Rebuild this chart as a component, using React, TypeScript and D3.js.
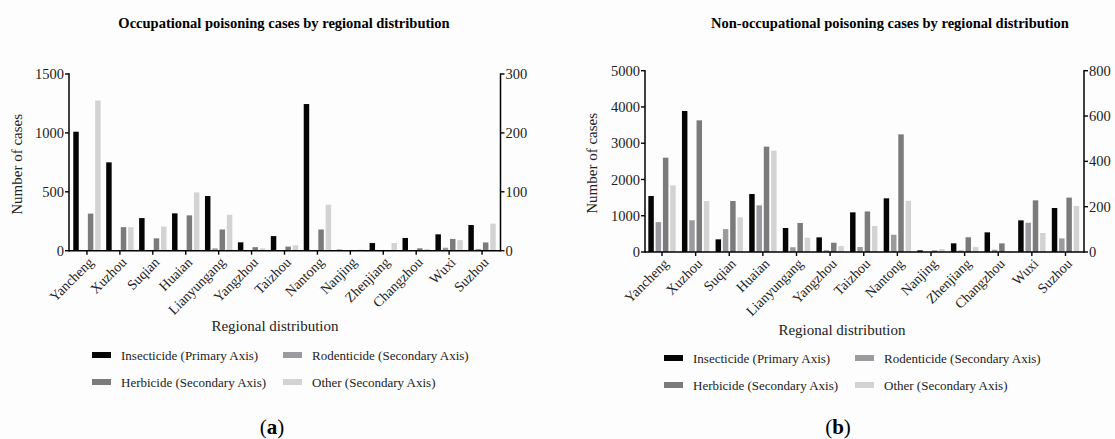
import React from "react";
import * as d3 from "d3";

const regions = ["Yancheng","Xuzhou","Suqian","Huaian","Lianyungang","Yangzhou","Taizhou","Nantong","Nanjing","Zhenjiang","Changzhou","Wuxi","Suzhou"];
const seriesNames = ["Insecticide", "Rodenticide", "Herbicide", "Other"];
const legendLabels = ["Insecticide (Primary Axis)", "Rodenticide (Secondary Axis)", "Herbicide (Secondary Axis)", "Other (Secondary Axis)"];

const occInsecticide = [1010, 750, 277, 317, 464, 71, 124, 1245, 8, 65, 108, 139, 218];
const occRodenticide = [0, 0, 0, 0, 4, 0, 0, 0, 0, 0, 0, 5, 3];
const occHerbicide = [63, 40, 21, 60, 36, 6, 7, 36, 0, 0, 4, 20, 14];
const occOther = [255, 40, 41, 99, 61, 4, 9, 78, 2, 13, 3, 18, 46];

const nonInsecticide = [1544, 3888, 349, 1599, 662, 404, 1094, 1480, 46, 239, 542, 873, 1213];
const nonRodenticide = [132, 140, 101, 206, 21, 8, 22, 76, 0, 7, 10, 129, 60];
const nonHerbicide = [416, 581, 225, 465, 128, 41, 179, 519, 7, 65, 38, 228, 240];
const nonOther = [294, 225, 153, 447, 63, 26, 115, 226, 13, 22, 3, 84, 203];

const occPrimaryTicks = [0, 500, 1000, 1500];
const occSecondaryTicks = [0, 100, 200, 300];
const nonPrimaryTicks = [0, 1000, 2000, 3000, 4000, 5000];
const nonSecondaryTicks = [0, 200, 400, 600, 800];

const colors = ["#050505", "#9b9b9f", "#7b7b7b", "#d3d3d3"];
const FONT = "Liberation Serif, Times New Roman, serif";

type PanelProps = {
  title: string;
  titleX: number;
  letter: string;
  letterX: number;
  axisLeft: number;
  axisRight: number;
  bandLeft: number;
  bandRight: number;
  y0: number;
  yTop: number;
  primaryMax: number;
  secondaryMax: number;
  primaryTicks: number[];
  secondaryTicks: number[];
  series: number[][];
  yLabelX: number;
  xLabelX: number;
  xLabelY: number;
  legendX: number;
  legendX2: number;
  legendY: number;
};

function Panel(p: PanelProps) {
  const x0 = d3.scaleBand<string>().domain(regions).range([p.bandLeft, p.bandRight]).padding(0);
  const x1 = d3.scaleBand<string>().domain(seriesNames).range([-14.6, 14.6]).paddingInner(0.25).paddingOuter(0.125);
  const yP = d3.scaleLinear().domain([0, p.primaryMax]).range([p.y0, p.yTop]);
  const yS = d3.scaleLinear().domain([0, p.secondaryMax]).range([p.y0, p.yTop]);
  const centre = (r: string) => (x0(r) as number) + x0.bandwidth() / 2;
  return (
    <g>
      <text x={p.titleX} y={28} textAnchor="middle" fontFamily={FONT} fontWeight="bold" fontSize={14.5}>{p.title}</text>
      {p.series.map((vals, si) =>
        vals.map((v, i) => {
          const sc = si === 0 ? yP : yS;
          const xx = centre(regions[i]) + (x1(seriesNames[si]) as number);
          return <rect key={si + "-" + i} x={xx} y={sc(v)} width={x1.bandwidth()} height={p.y0 - sc(v)} fill={colors[si]} />;
        })
      )}
      <line x1={p.axisLeft} x2={p.axisLeft} y1={p.yTop - 0.7} y2={p.y0 + 0.7} stroke="#000" strokeWidth={1.5} />
      {p.primaryTicks.map((t) => (
        <g key={"pt" + t}>
          <line x1={p.axisLeft - 4} x2={p.axisLeft} y1={yP(t)} y2={yP(t)} stroke="#000" strokeWidth={1.4} />
          <text x={p.axisLeft - 5} y={yP(t)} dy="0.35em" textAnchor="end" fontFamily={FONT} fontSize={14.5} fill="#222">{t}</text>
        </g>
      ))}
      <line x1={p.axisRight} x2={p.axisRight} y1={p.yTop - 0.7} y2={p.y0 + 0.7} stroke="#000" strokeWidth={1.5} />
      {p.secondaryTicks.map((t) => (
        <g key={"st" + t}>
          <line x1={p.axisRight} x2={p.axisRight + 4} y1={yS(t)} y2={yS(t)} stroke="#000" strokeWidth={1.4} />
          <text x={p.axisRight + 5} y={yS(t)} dy="0.35em" textAnchor="start" fontFamily={FONT} fontSize={14.5} fill="#222">{t}</text>
        </g>
      ))}
      <line x1={p.axisLeft} x2={p.axisRight} y1={p.y0} y2={p.y0} stroke="#000" strokeWidth={1.5} />
      {regions.map((r) => (
        <g key={"xt" + r}>
          <line x1={centre(r)} x2={centre(r)} y1={p.y0} y2={p.y0 + 4} stroke="#000" strokeWidth={1.4} />
          <text transform={`translate(${centre(r) + 4},${p.y0 + 9}) rotate(-45)`} textAnchor="end" dy="0.35em" fontFamily={FONT} fontSize={14} fill="#222">{r}</text>
        </g>
      ))}
      <text transform={`translate(${p.yLabelX},${(p.y0 + p.yTop) / 2 + 2}) rotate(-90)`} textAnchor="middle" fontFamily={FONT} fontSize={15} fill="#222">Number of cases</text>
      <text x={p.xLabelX} y={p.xLabelY} textAnchor="middle" fontFamily={FONT} fontSize={15} fill="#222">Regional distribution</text>
      {legendLabels.map((l, i) => {
        const col = i % 2;
        const row = Math.floor(i / 2);
        const lx = col === 0 ? p.legendX : p.legendX2;
        const ly = p.legendY + row * 27;
        return (
          <g key={"lg" + i}>
            <rect x={lx} y={ly - 3} width={19} height={6} fill={colors[i]} />
            <text x={lx + 29} y={ly} dy="0.35em" fontFamily={FONT} fontSize={13} fill="#222">{l}</text>
          </g>
        );
      })}
      <text x={p.letterX} y={434} textAnchor="middle" fontFamily={FONT} fontSize={21} fill="#000">(<tspan fontWeight="bold">{p.letter}</tspan>)</text>
    </g>
  );
}

export default function App() {
  return (
    <div style={{ position: "absolute", left: 0, top: 0 }}>
      <svg width={1115} height={439} viewBox="0 0 1115 439" style={{ display: "block", background: "#fdfdfd" }}>
        <Panel
          title="Occupational poisoning cases by regional distribution"
          titleX={284}
          letter="a"
          letterX={272}
          axisLeft={69}
          axisRight={500.5}
          bandLeft={70.5}
          bandRight={498.5}
          y0={250.7}
          yTop={74}
          primaryMax={1500}
          secondaryMax={300}
          primaryTicks={occPrimaryTicks}
          secondaryTicks={occSecondaryTicks}
          series={[occInsecticide, occRodenticide, occHerbicide, occOther]}
          yLabelX={22}
          xLabelX={275}
          xLabelY={331}
          legendX={92}
          legendX2={283}
          legendY={355}
        />
        <Panel
          title="Non-occupational poisoning cases by regional distribution"
          titleX={890}
          letter="b"
          letterX={838}
          axisLeft={645}
          axisRight={1084}
          bandLeft={645.2}
          bandRight={1082.3}
          y0={252}
          yTop={70.7}
          primaryMax={5000}
          secondaryMax={800}
          primaryTicks={nonPrimaryTicks}
          secondaryTicks={nonSecondaryTicks}
          series={[nonInsecticide, nonRodenticide, nonHerbicide, nonOther]}
          yLabelX={597}
          xLabelX={842}
          xLabelY={335}
          legendX={664}
          legendX2={855}
          legendY={358}
        />
      </svg>
    </div>
  );
}
